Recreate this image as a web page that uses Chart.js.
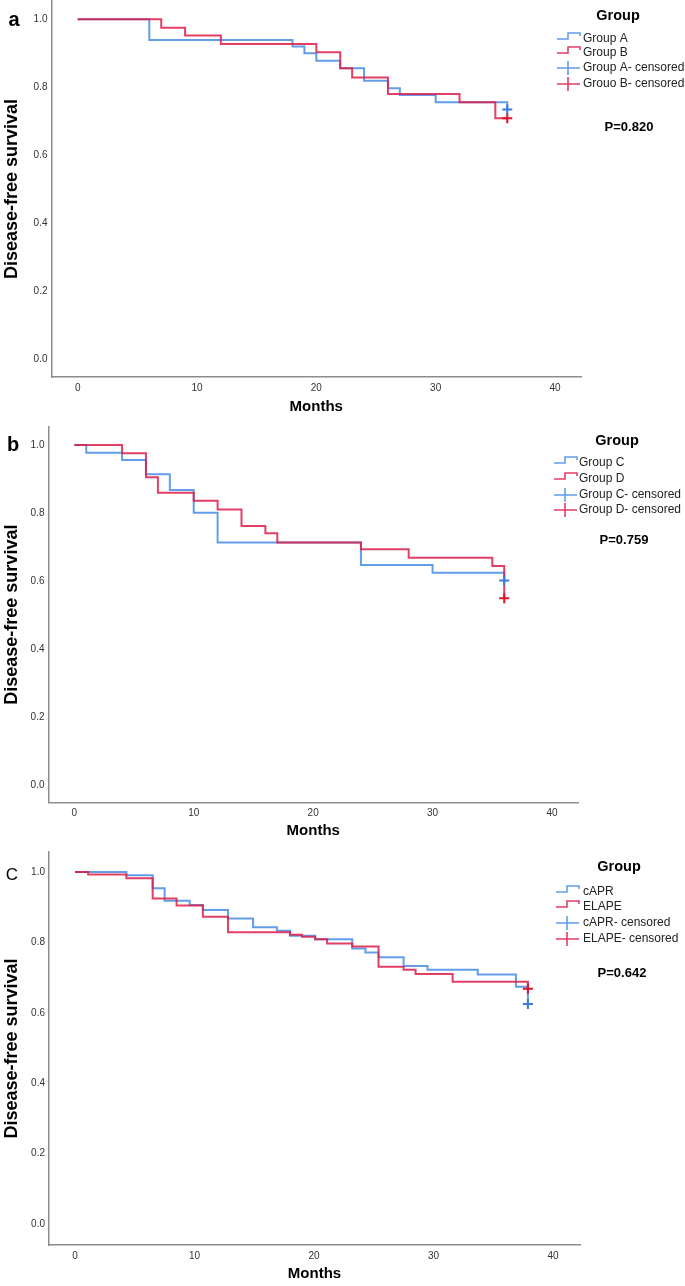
<!DOCTYPE html>
<html>
<head>
<meta charset="utf-8">
<script src="https://cdn.jsdelivr.net/npm/chart.js@4.4.1/dist/chart.umd.min.js"></script>
<style>
  html, body { margin: 0; padding: 0; background: #fff; }
  body { width: 685px; height: 1286px; position: relative; overflow: hidden; }
  canvas { position: absolute; left: 0; }
</style>
</head>
<body>
<canvas id="km_a" width="685" height="425" style="top:0px"></canvas>
<canvas id="km_b" width="685" height="425" style="top:425px"></canvas>
<canvas id="km_c" width="685" height="436" style="top:850px"></canvas>
<script>
// axis ticks
const xTicks = [0, 10, 20, 30, 40];
const yTicks = [0, 0.2, 0.4, 0.6, 0.8, 1.0];

// panel a  (months, survival)
const groupA_t = [0, 6, 18, 19, 20, 22, 24, 26, 27, 30, 36];
const groupA_s = [1, 0.939, 0.920, 0.900, 0.878, 0.856, 0.819, 0.797, 0.777, 0.756, 0.735];
const groupB_t = [0, 7, 9, 12, 20, 22, 23, 26, 32, 35, 36];
const groupB_s = [1, 0.975, 0.952, 0.927, 0.903, 0.856, 0.829, 0.780, 0.756, 0.709, 0.709];
const groupA_cens_t = [36], groupA_cens_s = [0.735];
const groupB_cens_t = [36], groupB_cens_s = [0.709];

// panel b
const groupC_t = [0, 1, 4, 6, 8, 10, 12, 24, 30, 36];
const groupC_s = [1, 0.977, 0.956, 0.914, 0.868, 0.801, 0.714, 0.648, 0.625, 0.602];
const groupD_t = [0, 4, 6, 7, 10, 12, 14, 16, 17, 24, 28, 35, 36];
const groupD_s = [1, 0.976, 0.905, 0.860, 0.836, 0.811, 0.762, 0.741, 0.714, 0.694, 0.669, 0.645, 0.550];
const groupC_cens_t = [36], groupC_cens_s = [0.602];
const groupD_cens_t = [36], groupD_cens_s = [0.550];

// panel c
const capr_t = [0, 4.3, 6.5, 7.5, 9.6, 10.7, 12.8, 14.9, 16.9, 18.0, 20.1, 23.2, 24.3, 25.4, 27.5, 29.5, 33.7, 36.9, 37.9];
const capr_s = [1, 0.991, 0.954, 0.918, 0.906, 0.892, 0.868, 0.843, 0.833, 0.819, 0.809, 0.783, 0.771, 0.758, 0.733, 0.722, 0.709, 0.674, 0.625];
const elape_t = [0, 1.1, 4.3, 6.5, 8.5, 10.7, 12.8, 18.0, 19.0, 20.1, 21.1, 23.2, 25.4, 27.5, 28.5, 31.6, 37.9];
const elape_s = [1, 0.993, 0.982, 0.925, 0.905, 0.873, 0.829, 0.822, 0.816, 0.809, 0.797, 0.788, 0.731, 0.722, 0.710, 0.688, 0.668];
const capr_cens_t = [37.9], capr_cens_s = [0.625];
const elape_cens_t = [37.9], elape_cens_s = [0.668];

const labelsA = ['Group A', 'Group B', 'Group A- censored', 'Grouo B- censored'];
const labelsB = ['Group C', 'Group D', 'Group C- censored', 'Group D- censored'];
const labelsC = ['cAPR', 'ELAPE', 'cAPR- censored', 'ELAPE- censored'];

const BLUE = 'rgba(70,140,230,0.85)';
const RED = 'rgba(222,28,72,0.85)';
const BLUE_X = '#3a7be0';
const RED_X = '#e0102f';
const FONT = '"Liberation Sans", Arial, sans-serif';

const pts = (t, s) => t.map((x, i) => ({x: x, y: s[i]}));

// draws the SPSS style legend, panel letter and p value
const kmLegend = {
  id: 'kmLegend',
  afterDraw(chart, args, o) {
    const ctx = chart.ctx;
    ctx.save();
    ctx.textBaseline = 'middle';
    ctx.fillStyle = '#000';
    ctx.textAlign = 'center';
    ctx.font = o.letterFont;
    ctx.fillText(o.letter, o.letterX, o.letterY);
    ctx.font = 'bold 14.5px ' + FONT;
    ctx.fillText('Group', o.titleX, o.titleY);
    ctx.font = '12px ' + FONT;
    ctx.textAlign = 'left';
    o.labels.forEach((lab, i) => {
      const y = o.itemY[i], x = o.iconX;
      ctx.strokeStyle = i % 2 ? RED : BLUE;
      ctx.lineWidth = 1.6;
      ctx.beginPath();
      if (i < 2) {
        ctx.moveTo(x, y); ctx.lineTo(x + 11, y); ctx.lineTo(x + 11, y - 6);
        ctx.lineTo(x + 23, y - 6); ctx.lineTo(x + 23, y - 3);
      } else {
        ctx.moveTo(x, y); ctx.lineTo(x + 23, y);
        ctx.moveTo(x + 11, y - 7); ctx.lineTo(x + 11, y + 7);
      }
      ctx.stroke();
      ctx.fillStyle = '#222';
      ctx.fillText(lab, o.textX, y);
    });
    ctx.fillStyle = '#000';
    ctx.textAlign = 'center';
    ctx.font = 'bold 13px ' + FONT;
    ctx.fillText(o.pText, o.pX, o.pY);
    ctx.restore();
  }
};

function makePanel(id, g, series, legend) {
  const pxPerMonth = (g.x40 - g.x0) / 40;
  const pxPerUnit = g.y0 - g.y1;
  const config = {
    type: 'scatter',
    data: {
      datasets: [
        {label: legend.labels[0], data: series[0], showLine: true, stepped: true,
         borderColor: BLUE, borderWidth: 2, pointRadius: 0, order: 2},
        {label: legend.labels[1], data: series[1], showLine: true, stepped: true,
         borderColor: RED, borderWidth: 2, pointRadius: 0, order: 1},
        {label: legend.labels[2], data: series[2], pointStyle: 'cross', pointRadius: 5,
         borderColor: BLUE_X, borderWidth: 2, order: 0},
        {label: legend.labels[3], data: series[3], pointStyle: 'cross', pointRadius: 5,
         borderColor: RED_X, borderWidth: 2, order: 0}
      ]
    },
    options: {
      responsive: false,
      animation: false,
      layout: {
        autoPadding: false,
        padding: {top: g.top - g.canvasTop, right: 685 - g.right, left: 0, bottom: 0}
      },
      plugins: {
        legend: {display: false},
        tooltip: {enabled: false},
        kmLegend: legend
      },
      scales: {
        x: {
          type: 'linear',
          min: -(g.x0 - g.left) / pxPerMonth,
          max: (g.right - g.x0) / pxPerMonth,
          afterBuildTicks: s => { s.ticks = xTicks.map(v => ({value: v})); },
          afterFit: s => {
            s.height = g.canvasTop + g.canvasH - g.bottom;
            s.paddingLeft = 0; s.paddingRight = 0;
          },
          grid: {display: false, drawTicks: false},
          border: {color: '#8c8c8c', width: 1.5},
          ticks: {padding: 5, color: '#333', font: {family: FONT, size: 10}},
          title: {display: true, text: 'Months', color: '#000',
                  font: {family: FONT, size: 15, weight: 'bold', lineHeight: 1.2},
                  padding: {top: 0, bottom: g.canvasTop + g.canvasH - g.monthsY - 9}}
        },
        y: {
          type: 'linear',
          min: -(g.bottom - g.y0) / pxPerUnit,
          max: 1 + (g.y1 - g.top) / pxPerUnit,
          afterBuildTicks: s => { s.ticks = yTicks.map(v => ({value: v})); },
          afterFit: s => {
            s.width = g.left;
            s.paddingTop = 0; s.paddingBottom = 0;
          },
          grid: {display: false, drawTicks: false},
          border: {color: '#8c8c8c', width: 1.5},
          ticks: {padding: 4, color: '#333', font: {family: FONT, size: 10},
                  callback: v => v.toFixed(1)},
          title: {display: true, text: 'Disease-free survival', color: '#000',
                  font: {family: FONT, size: 18, weight: 'bold', lineHeight: 1.2},
                  padding: {top: 1, bottom: 0}}
        }
      }
    },
    plugins: [kmLegend]
  };
  return new Chart(document.getElementById(id), config);
}

// legend coordinates are given relative to each canvas
function shift(l, dy) {
  return Object.assign({}, l, {
    letterY: l.letterY - dy, titleY: l.titleY - dy, pY: l.pY - dy,
    itemY: l.itemY.map(v => v - dy)
  });
}

makePanel('km_a',
  {canvasTop: 0, canvasH: 425, top: 1, bottom: 377, left: 51.5, right: 581,
   y1: 19.3, y0: 359.3, x0: 77.7, x40: 555, monthsY: 407},
  [pts(groupA_t, groupA_s), pts(groupB_t, groupB_s),
   pts(groupA_cens_t, groupA_cens_s), pts(groupB_cens_t, groupB_cens_s)],
  shift({letter: 'a', letterFont: 'bold 20px ' + FONT, letterX: 14, letterY: 20,
   titleX: 618, titleY: 16, iconX: 557, textX: 583, itemY: [39, 53, 68, 84],
   labels: labelsA, pText: 'P=0.820', pX: 629, pY: 127}, 0));

makePanel('km_b',
  {canvasTop: 425, canvasH: 425, top: 427, bottom: 802.3, left: 48.5, right: 578,
   y1: 445, y0: 785.7, x0: 74.3, x40: 552, monthsY: 831},
  [pts(groupC_t, groupC_s), pts(groupD_t, groupD_s),
   pts(groupC_cens_t, groupC_cens_s), pts(groupD_cens_t, groupD_cens_s)],
  shift({letter: 'b', letterFont: 'bold 20px ' + FONT, letterX: 13, letterY: 445,
   titleX: 617, titleY: 441, iconX: 554, textX: 579, itemY: [463, 479, 495, 510],
   labels: labelsB, pText: 'P=0.759', pX: 624, pY: 540}, 425));

makePanel('km_c',
  {canvasTop: 850, canvasH: 436, top: 852, bottom: 1245, left: 49, right: 580,
   y1: 872, y0: 1224, x0: 75, x40: 553, monthsY: 1274},
  [pts(capr_t, capr_s), pts(elape_t, elape_s),
   pts(capr_cens_t, capr_cens_s), pts(elape_cens_t, elape_cens_s)],
  shift({letter: 'C', letterFont: '17px ' + FONT, letterX: 12, letterY: 875,
   titleX: 619, titleY: 867, iconX: 556, textX: 583, itemY: [892, 907, 923, 939],
   labels: labelsC, pText: 'P=0.642', pX: 622, pY: 973}, 850));
</script>
</body>
</html>
